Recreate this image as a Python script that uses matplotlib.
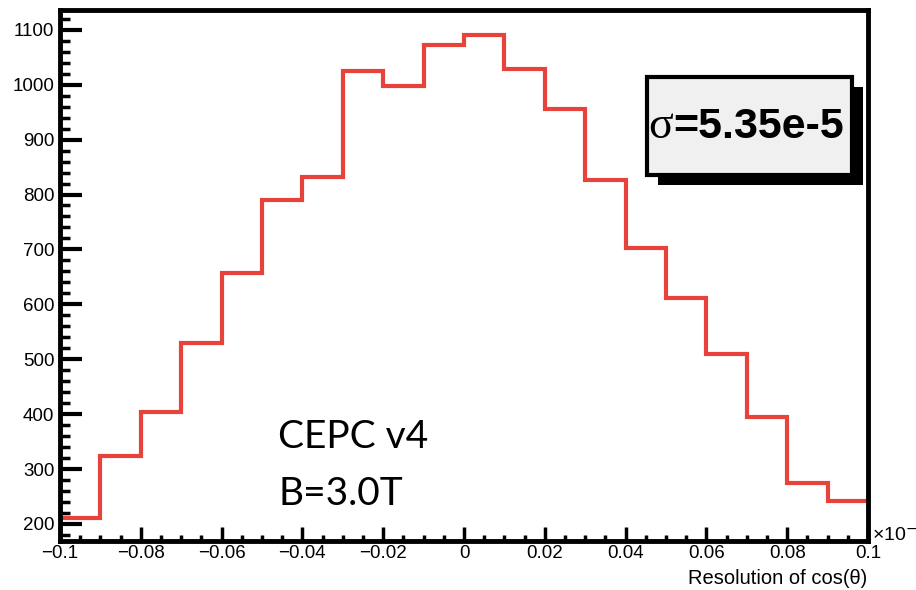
import matplotlib.pyplot as plt
from matplotlib.patches import Rectangle

# histogram of cos(theta) resolution, 20 bins (x axis in units of 1e-3)
edges = [-0.10, -0.09, -0.08, -0.07, -0.06, -0.05, -0.04, -0.03, -0.02, -0.01, 0.00,
         0.01, 0.02, 0.03, 0.04, 0.05, 0.06, 0.07, 0.08, 0.09, 0.10]
counts = [211, 324, 404, 530, 657, 790, 832, 1025, 998, 1073,
          1091, 1029, 956, 827, 703, 612, 510, 395, 275, 242]

xticks = [-0.1, -0.08, -0.06, -0.04, -0.02, 0, 0.02, 0.04, 0.06, 0.08, 0.1]
xticklabels = ["\u22120.1", "\u22120.08", "\u22120.06", "\u22120.04", "\u22120.02", "0",
               "0.02", "0.04", "0.06", "0.08", "0.1"]
yticks = [200, 300, 400, 500, 600, 700, 800, 900, 1000, 1100]

plt.rcParams['font.family'] = ['Liberation Sans', 'DejaVu Sans']

W, H = 916, 590
fig = plt.figure(figsize=(W / 100, H / 100), dpi=100)

def fx(px):
    return px / W

def fy(py):
    return 1 - py / H

ax = fig.add_axes([fx(60), fy(541), fx(868) - fx(60), fy(10) - fy(541)])
ax.stairs(counts, edges, baseline=None, color='#e8433a', linewidth=3)

ax.set_xlim(-0.1, 0.1)
ax.set_ylim(169, 1136)

ax.set_xticks(xticks)
ax.set_xticklabels(xticklabels)
ax.set_xticks([-0.1 + 0.005 * i for i in range(41)], minor=True)
ax.set_yticks(yticks)
ax.set_yticks([180 + 20 * i for i in range(48)], minor=True)

for s in ax.spines.values():
    s.set_linewidth(3.5)

ax.tick_params(axis='both', which='both', direction='in', top=False, right=False, labelsize=13.5)
ax.tick_params(axis='y', which='major', length=16, width=3, pad=4)
ax.tick_params(axis='y', which='minor', length=7, width=2.5)
ax.tick_params(axis='x', which='major', length=10, width=2.5, pad=3)
ax.tick_params(axis='x', which='minor', length=4, width=2.5)

# axis title and exponent, ROOT style
fig.text(fx(867), fy(578), "Resolution of cos(\u03b8)", ha='right', va='center', fontsize=14.5)
fig.text(fx(872), fy(541), "\u00d710$^{-3}$", ha='left', va='baseline', fontsize=14)

# sigma box with drop shadow
bx0, by0, bx1, by1 = 647, 77, 852, 175
fig.patches.append(Rectangle((fx(bx0 + 11), fy(by1 + 10)), fx(bx1 - bx0), fy(by0) - fy(by1),
                             transform=fig.transFigure, facecolor='black', edgecolor='black',
                             linewidth=0, zorder=5))
fig.patches.append(Rectangle((fx(bx0), fy(by1)), fx(bx1 - bx0), fy(by0) - fy(by1),
                             transform=fig.transFigure, facecolor='#f0f0f0', edgecolor='black',
                             linewidth=3, zorder=6))
fig.text(fx(673), fy(127), "\u03c3", ha='right', va='center', fontsize=33,
         family='Liberation Serif', zorder=7)
fig.text(fx(673), fy(127), "=5.35e-5", ha='left', va='center', fontsize=31,
         fontweight='bold', zorder=7)

# detector label
fig.text(fx(278), fy(448), "CEPC v4", ha='left', va='baseline', fontsize=28, family='Lato')
fig.text(fx(278), fy(505), "B=3.0T", ha='left', va='baseline', fontsize=28, family='Lato')

fig.savefig("out.png", dpi=100)
